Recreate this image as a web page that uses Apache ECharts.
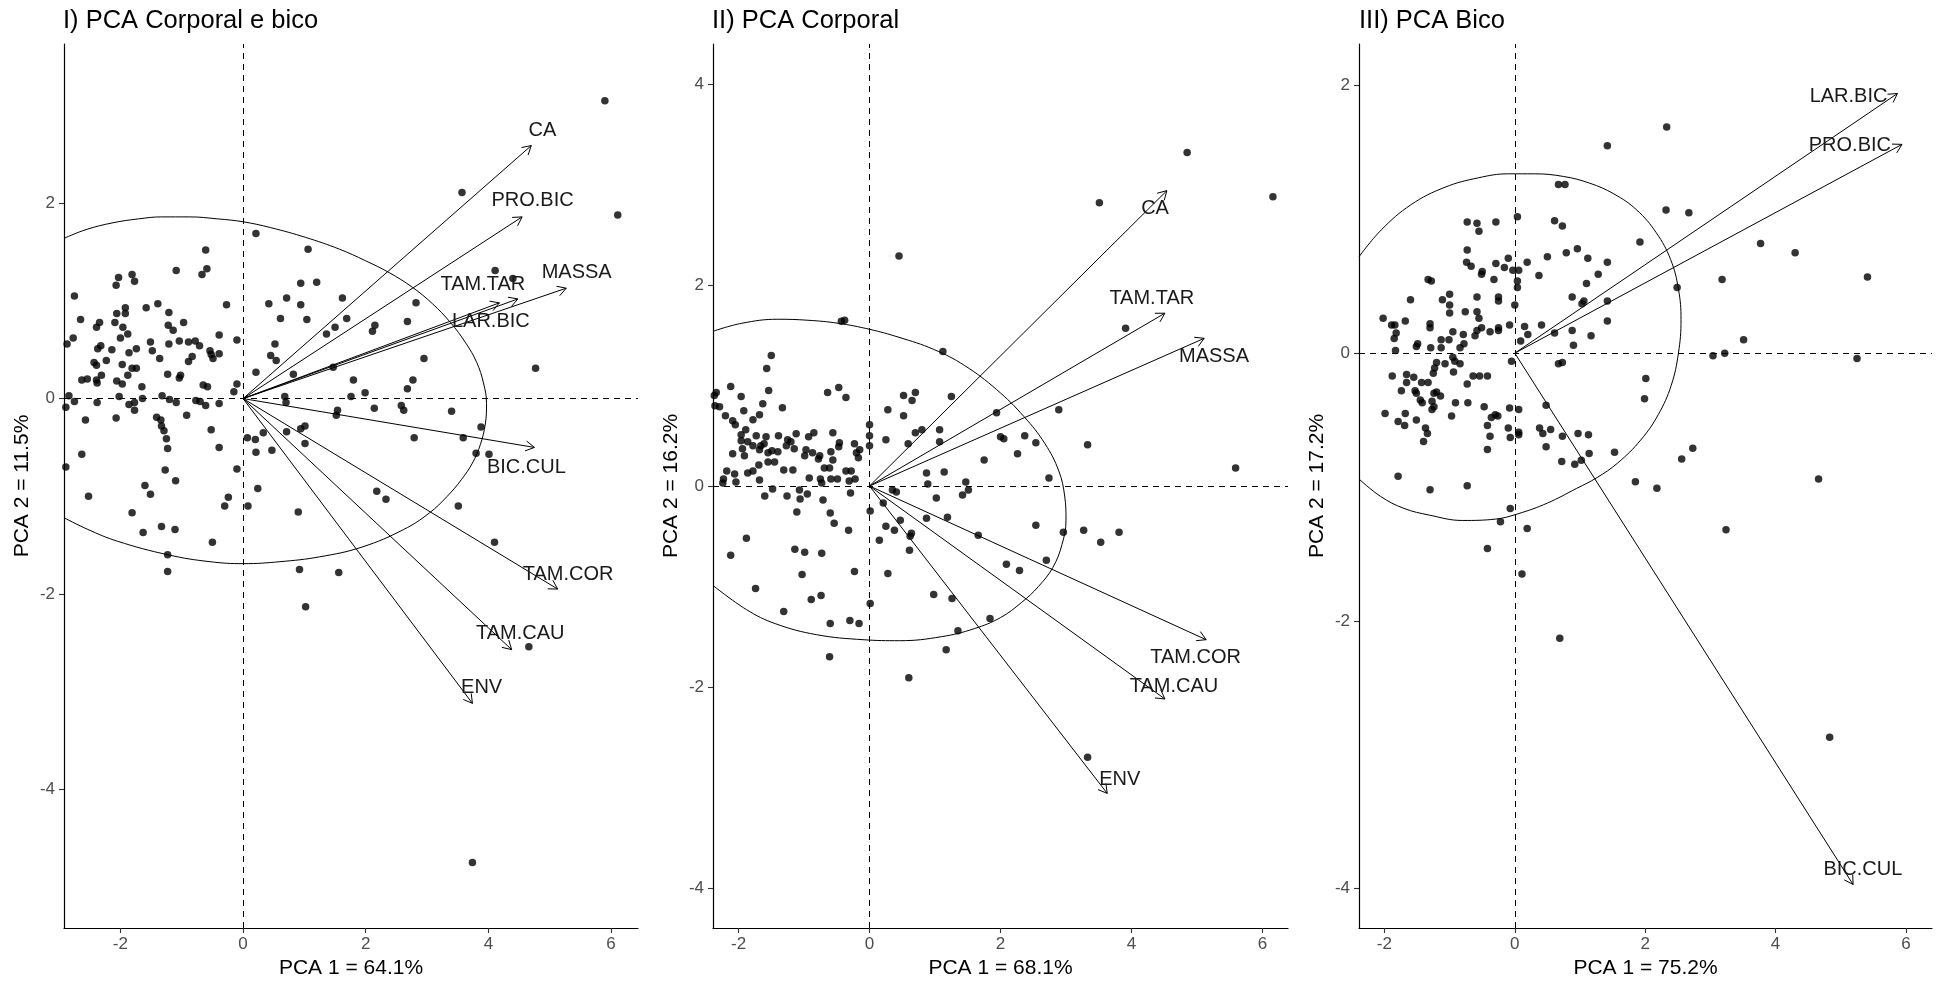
<!DOCTYPE html>
<html><head><meta charset="utf-8">
<script src="https://cdn.jsdelivr.net/npm/echarts@6/dist/echarts.min.js"></script>
<style>html,body{margin:0;padding:0;background:#fff}#c{width:1937px;height:984px}</style>
</head><body><div id="c"></div>
<script>
const FONT = 'Liberation Sans, Arial, sans-serif';

const titles = ['I) PCA Corporal e bico', 'II) PCA Corporal', 'III) PCA Bico'];
const xNames = ['PCA 1 = 64.1%', 'PCA 1 = 68.1%', 'PCA 1 = 75.2%'];
const yNames = ['PCA 2 = 11.5%', 'PCA 2 = 16.2%', 'PCA 2 = 17.2%'];
const xTicks = [-2, 0, 2, 4, 6];
const yTicks = [[-4, -2, 0, 2], [-4, -2, 0, 2, 4], [-4, -2, 0, 2]];
const xRange = [[-2.92, 6.44], [-2.39, 6.39], [-2.39, 6.40]];
const yRange = [[-5.42, 3.63], [-4.40, 4.40], [-4.295, 2.31]];

// Panel I points
const pts1 = [[-0.61,1.52],[-1.09,1.31],[-0.59,1.33],[-0.67,1.27],[-2.03,1.24],[-2.07,1.16],[-1.81,1.27],[-1.77,1.20],[-2.75,1.05],[-0.27,0.96],[-1.58,0.93],[-1.39,0.97],[-1.92,0.93],[-2.06,0.87],[-1.92,0.87],[-1.21,0.88],[-2.65,0.81],[-2.34,0.78],[-2.39,0.73],[-2.09,0.78],[-1.96,0.73],[-0.97,0.78],[-1.22,0.75],[-1.14,0.70],[-1.88,0.66],[-2.00,0.62],[-2.77,0.62],[-2.87,0.56],[-0.39,0.65],[-0.10,0.60],[-1.51,0.58],[-1.21,0.56],[-1.04,0.59],[-0.89,0.58],[-0.78,0.59],[-0.71,0.54],[-2.32,0.54],[-2.37,0.51],[-2.14,0.50],[-1.74,0.51],[-1.86,0.47],[-1.48,0.49],[-0.54,0.49],[-0.52,0.45],[-0.39,0.46],[-0.49,0.41],[-1.36,0.41],[-0.83,0.43],[-0.89,0.38],[-2.23,0.39],[-2.43,0.37],[-2.39,0.34],[-1.97,0.35],[-1.81,0.31],[-1.74,0.31],[-1.88,0.24],[-2.31,0.24],[-2.63,0.19],[-2.54,0.20],[-2.39,0.19],[-2.38,0.16],[-2.06,0.18],[-1.97,0.15],[-1.23,0.25],[-1.02,0.24],[-1.04,0.21],[-1.65,0.12],[-0.65,0.14],[-0.58,0.12],[-0.10,0.15],[-0.15,0.07],[-2.84,0.03],[-2.89,-0.09],[-2.75,-0.03],[-2.38,-0.04],[-2.02,0.02],[-1.64,0.00],[-1.32,0.03],[-1.20,-0.01],[-1.09,-0.04],[-0.77,-0.02],[-0.70,-0.03],[-0.61,-0.07],[-0.39,-0.05],[-1.86,-0.06],[-1.77,-0.04],[-1.77,-0.12],[-0.92,-0.17],[-2.57,-0.22],[-2.07,-0.20],[-1.41,-0.19],[-1.34,-0.22],[-1.33,-0.28],[-1.29,-0.33],[-1.25,-0.41],[-1.23,-0.51],[-0.52,-0.32],[-0.39,-0.50],[-2.63,-0.57],[-2.89,-0.70],[-1.27,-0.73],[-1.10,-0.84],[-0.10,-0.72],[-1.60,-0.89],[-1.51,-0.98],[-2.52,-1.00],[-0.24,-1.01],
[-1.81,-1.17],[-1.63,-1.37],[-1.33,-1.31],[-1.11,-1.34],[-0.50,-1.47],[-1.23,-1.60],[-1.23,-1.77],[-0.30,-1.10],[0.08,-1.10],[0.90,-1.16],[0.92,-1.75],[1.02,-2.13],[1.56,-1.78],[2.18,-0.95],[2.33,-1.03],[3.51,-1.10],[4.10,-1.47],[4.66,-2.54],[3.74,-4.75],
[3.57,2.11],[0.21,1.69],[1.06,1.53],[4.11,1.31],[4.40,1.23],[0.94,1.18],[1.20,1.19],[0.71,1.03],[0.42,0.97],[0.94,0.96],[1.62,1.03],[0.61,0.82],[1.04,0.81],[1.69,0.82],[2.82,0.98],[2.68,0.79],[1.36,0.66],[1.50,0.73],[2.15,0.75],[2.11,0.69],[0.52,0.56],[0.45,0.44],[0.54,0.39],[2.95,0.41],[0.21,0.27],[0.82,0.25],[1.47,0.32],[1.80,0.19],[2.77,0.19],[2.68,0.10],[1.99,0.06],[1.76,0.02],[0.68,0.02],[0.70,-0.04],[1.54,-0.12],[1.52,-0.17],[2.14,-0.10],[2.58,-0.07],[2.62,-0.12],[3.40,-0.13],[3.88,-0.29],[3.59,-0.40],[3.80,-0.56],[4.01,-0.57],[2.79,-0.40],[0.94,-0.31],[1.01,-0.28],[0.71,-0.34],[0.33,-0.35],[0.07,-0.40],[0.20,-0.42],[0.21,-0.55],[0.47,-0.53],[1.01,-0.46],[0.24,-0.92],
[6.11,1.88],[5.90,3.05],[4.77,0.31]];

// Panel II points
const pts2 = [[-0.43,1.64],[-0.38,1.65],[-1.50,1.30],[-1.57,1.17],[-2.12,0.99],[-1.54,0.95],[-1.96,0.89],[-2.34,0.93],[-2.37,0.90],[-2.36,0.80],[-2.29,0.79],[-1.63,0.82],[-1.33,0.78],[-1.68,0.71],[-1.92,0.75],[-2.20,0.70],[-2.09,0.65],[-2.05,0.61],[-1.78,0.66],[-0.64,0.93],[-0.47,0.98],[-0.36,0.88],[0.28,0.76],[0.52,0.90],[0.70,0.93],[0.65,0.85],[0.52,0.70],[0.00,0.61],[0.00,0.50],[0.00,0.40],[0.25,0.46],[0.59,0.42],[0.70,0.53],[0.80,0.56],[-1.96,0.51],[-1.89,0.56],[-1.73,0.50],[-1.58,0.49],[-1.39,0.50],[-1.12,0.52],[-0.85,0.53],[-0.93,0.49],[-0.56,0.53],[-1.96,0.45],[-1.86,0.44],[-1.78,0.40],[-1.66,0.40],[-1.61,0.42],[-1.94,0.37],[-1.25,0.46],[-1.20,0.44],[-1.27,0.40],[-1.15,0.37],[-0.46,0.43],[-0.47,0.39],[-0.23,0.42],[-0.15,0.36],[-0.20,0.33],[-0.17,0.28],[-2.09,0.32],[-1.91,0.30],[-1.68,0.36],[-1.55,0.33],[-1.49,0.35],[-1.40,0.34],[-0.97,0.36],[-0.87,0.33],[-0.76,0.30],[-0.78,0.27],[-0.99,0.30],[-0.59,0.34],[-0.56,0.26],[-1.55,0.24],[-1.45,0.24],[-0.69,0.18],[-0.61,0.18],[-1.31,0.16],[-1.17,0.16],[-1.69,0.21],[-1.78,0.15],[-1.86,0.13],[-2.18,0.15],[-2.06,0.12],[-2.23,0.07],[-2.04,0.04],[-2.24,0.03],[-1.68,0.06],[-0.92,0.08],[-0.75,0.07],[-0.73,0.03],[-0.59,0.07],[-0.49,0.07],[-0.36,0.15],[-0.28,0.15],[-0.31,0.05],[-0.22,0.07],[-1.48,-0.03],[-1.60,-0.10],[-1.26,-0.10],[-1.07,-0.04],[-1.06,-0.13],[-0.95,-0.08],[-0.71,-0.14],[-0.29,-0.07],[-1.11,-0.26],[-0.60,-0.27],[-0.54,-0.37],[-0.32,-0.44],[0.01,-0.25],[0.15,-0.54],[0.25,-0.40],[0.38,-0.44],[0.35,-0.04],[0.41,-0.06],[0.21,-0.17],[0.47,-0.34],[0.62,-0.50],[0.64,-0.47],[0.61,-0.64],[0.87,0.13],[0.89,0.02],[1.02,-0.12],[0.87,-0.32],[-1.88,-0.52],[-2.12,-0.69],[-1.14,-0.63],[-0.99,-0.66],[-0.73,-0.67],[-1.03,-0.88],[-0.23,-0.85],[0.28,-0.87],
[-1.74,-1.02],[-1.31,-1.25],[-0.89,-1.13],[-0.74,-1.09],[-0.60,-1.37],[-0.30,-1.34],[-0.16,-1.37],[0.01,-1.17],[-0.61,-1.70],[0.98,-1.08],[1.26,-1.12],[1.35,-1.44],[1.17,-1.63],[1.84,-1.32],[0.60,-1.91],[2.09,-0.78],[2.29,-0.84],[2.70,-0.74],[2.54,-0.39],[2.96,-0.46],[3.27,-0.44],[3.53,-0.56],[3.81,-0.46],[3.33,-2.70],[1.66,-0.49],[1.19,-0.31],
[3.51,2.82],[3.91,1.57],[1.12,1.34],[1.25,0.89],[1.94,0.73],[2.89,0.76],[1.07,0.56],[1.07,0.44],[2.00,0.49],[2.05,0.47],[2.37,0.50],[2.54,0.43],[2.26,0.32],[1.75,0.26],[3.33,0.41],[1.14,0.14],[2.74,0.08],[1.47,0.04],[1.51,-0.04],[1.42,-0.09],
[4.85,3.32],[6.16,2.88],[0.45,2.29],[5.59,0.18]];

// Panel III points
const pts3 = [[0.67,1.26],[0.77,1.26],[0.04,1.02],[-0.73,0.98],[-0.58,0.97],[-0.55,0.91],[-0.29,0.98],[0.61,0.99],[0.73,0.95],[-0.73,0.77],[-0.74,0.68],[-0.67,0.65],[-0.50,0.61],[-0.51,0.59],[-0.29,0.67],[-0.16,0.64],[-0.10,0.71],[-0.03,0.62],[0.06,0.62],[0.19,0.68],[0.37,0.58],[0.50,0.72],[0.79,0.75],[0.96,0.78],[1.12,0.71],[1.10,0.52],[0.04,0.54],[0.04,0.49],[-0.32,0.55],[-1.33,0.55],[-1.28,0.54],[-1.60,0.40],[-1.11,0.40],[-1.00,0.44],[-1.00,0.36],[-1.00,0.30],[-0.58,0.42],[-0.25,0.42],[-0.25,0.39],[0.00,0.36],[0.88,0.42],[1.03,0.37],[1.06,0.39],[-2.02,0.26],[-1.89,0.21],[-1.84,0.21],[-1.68,0.24],[-1.30,0.22],[-1.30,0.19],[-0.76,0.31],[-0.58,0.31],[-0.55,0.26],[-0.58,0.17],[-0.51,0.19],[-0.61,0.13],[-0.38,0.16],[-0.25,0.17],[-0.25,0.19],[-0.08,0.21],[0.15,0.20],[0.20,0.14],[0.41,0.21],[0.61,0.15],[0.88,0.17],[1.17,0.13],[0.90,0.06],[0.09,0.09],[-1.82,0.15],[-1.85,0.11],[-1.83,0.02],[-1.49,0.07],[-1.51,0.05],[-1.29,0.04],[-1.13,0.04],[-1.13,0.10],[-1.01,0.10],[-0.95,0.16],[-0.79,0.14],[-0.78,0.07],[-0.84,0.04],[-0.95,-0.03],[-0.92,-0.06],[-0.84,-0.08],[-1.07,-0.08],[-1.20,-0.07],[-1.23,-0.11],[-1.25,-0.15],[-0.94,-0.14],[-0.05,-0.06],[0.67,-0.08],[0.73,-0.07],[-1.88,-0.17],[-1.66,-0.16],[-1.55,-0.18],[-1.66,-0.22],[-1.43,-0.22],[-1.33,-0.22],[-1.74,-0.28],[-1.53,-0.28],[-1.51,-0.30],[-1.20,-0.29],[-1.14,-0.32],[-1.24,-0.30],[-1.45,-0.35],[-1.42,-0.37],[-1.27,-0.36],[-1.24,-0.40],[-1.27,-0.42],[-0.73,-0.23],[-0.64,-0.17],[-0.54,-0.17],[-0.42,-0.17],[-0.91,-0.37],[-0.72,-0.37],[-0.47,-0.40],[-1.99,-0.45],[-1.68,-0.45],[-1.79,-0.51],[-1.69,-0.54],[-1.51,-0.50],[-1.37,-0.56],[-1.34,-0.60],[-1.40,-0.66],[-0.97,-0.47],[-0.36,-0.48],[-0.30,-0.46],[-0.26,-0.47],[-0.42,-0.54],[-0.38,-0.62],[-0.42,-0.72],[-0.08,-0.41],[0.06,-0.42],[-0.10,-0.56],[0.06,-0.59],[-0.07,-0.63],[0.06,-0.61],[0.38,-0.56],[0.43,-0.60],[0.55,-0.57],[0.48,-0.39],[0.48,-0.70],[0.73,-0.62],[0.97,-0.60],[1.13,-0.61],[0.72,-0.81],[0.92,-0.83],[1.02,-0.80],[1.14,-0.75],[-1.79,-0.92],[-1.30,-1.02],[-0.73,-0.99],[-0.07,-1.16],
[2.33,1.69],[1.42,1.55],[2.32,1.07],[2.67,1.05],[1.92,0.83],[1.42,0.68],[1.28,0.59],[1.42,0.39],[1.42,0.24],[2.49,0.49],[3.18,0.55],[3.77,0.82],[4.30,0.75],[5.41,0.57],[3.51,0.10],[3.04,-0.02],[3.22,0.00],[5.25,-0.04],[2.01,-0.19],[1.99,-0.34],[1.53,-0.74],[2.73,-0.71],[2.56,-0.79],[1.85,-0.96],[2.18,-1.01],[4.66,-0.94],[-0.22,-1.26],[0.19,-1.31],[-0.42,-1.46],[0.11,-1.65],[0.69,-2.13],[3.24,-1.32],[4.83,-2.87]];

// Ellipses
const ell1 = [[-2.92,-1.22],[-2.53,-1.34],[-2.05,-1.46],[-1.22,-1.60],[-0.54,-1.67],[0.01,-1.69],[0.60,-1.67],[1.25,-1.62],[1.94,-1.52],[2.62,-1.34],[3.04,-1.17],[3.33,-1.00],[3.56,-0.83],[3.74,-0.66],[3.87,-0.47],[3.95,-0.26],[3.97,-0.05],[3.92,0.16],[3.81,0.37],[3.63,0.57],[3.38,0.78],[3.09,0.97],[2.76,1.14],[2.38,1.29],[2.00,1.41],[1.57,1.53],[1.02,1.65],[0.45,1.75],[0.00,1.81],[-0.42,1.84],[-0.87,1.86],[-1.33,1.86],[-1.70,1.84],[-2.12,1.80],[-2.56,1.73],[-2.92,1.64]];
const ell2 = [[-2.39,-0.99],[-1.88,-1.23],[-1.44,-1.37],[-0.81,-1.48],[-0.10,-1.53],[0.46,-1.54],[1.10,-1.50],[1.60,-1.42],[2.00,-1.31],[2.32,-1.16],[2.58,-1.00],[2.80,-0.81],[2.94,-0.58],[3.00,-0.34],[2.98,-0.10],[2.89,0.15],[2.68,0.42],[2.36,0.69],[1.94,0.96],[1.45,1.20],[0.98,1.36],[0.45,1.48],[0.00,1.56],[-0.48,1.62],[-0.94,1.65],[-1.40,1.66],[-1.95,1.62],[-2.39,1.54]];
const ell3 = [[-2.39,-0.94],[-2.06,-1.07],[-1.70,-1.16],[-1.31,-1.21],[-0.80,-1.25],[-0.30,-1.24],[0.05,-1.20],[0.50,-1.12],[0.95,-1.01],[1.26,-0.93],[1.58,-0.82],[1.93,-0.65],[2.20,-0.46],[2.40,-0.24],[2.51,0.00],[2.55,0.25],[2.51,0.48],[2.39,0.70],[2.17,0.90],[1.87,1.07],[1.52,1.19],[1.15,1.27],[0.75,1.32],[0.30,1.34],[-0.10,1.34],[-0.56,1.31],[-1.07,1.24],[-1.59,1.11],[-2.05,0.92],[-2.39,0.72]];

// Loading arrows: names, tips, label positions
const vars1 = ['CA','PRO.BIC','MASSA','TAM.TAR','LAR.BIC','BIC.CUL','TAM.COR','TAM.CAU','ENV'];
const tips1 = [[4.70,2.59],[4.55,1.86],[5.27,1.13],[4.18,0.98],[4.48,1.02],[4.75,-0.50],[5.13,-1.95],[4.38,-2.57],[3.74,-3.12]];
const labs1 = [[4.88,2.74],[4.72,2.03],[5.44,1.29],[3.91,1.17],[4.04,0.79],[4.62,-0.71],[5.30,-1.80],[4.52,-2.40],[3.89,-2.96]];
const vars2 = ['CA','TAM.TAR','MASSA','TAM.COR','TAM.CAU','ENV'];
const tips2 = [[4.54,2.94],[4.51,1.72],[5.11,1.47],[5.14,-1.53],[4.51,-2.12],[3.63,-3.06]];
const labs2 = [[4.36,2.76],[4.31,1.87],[5.26,1.29],[4.98,-1.71],[4.65,-2.00],[3.82,-2.92]];
const vars3 = ['LAR.BIC','PRO.BIC','BIC.CUL'];
const tips3 = [[5.87,1.94],[5.94,1.56],[5.19,-3.97]];
const labs3 = [[5.12,1.92],[5.14,1.55],[5.34,-3.86]];

const pts = [pts1, pts2, pts3];
const ells = [ell1, ell2, ell3];
const vars = [vars1, vars2, vars3];
const tips = [tips1, tips2, tips3];
const labs = [labs1, labs2, labs3];

const grids = [
  {left: 64, top: 44, width: 574, height: 885},
  {left: 713, top: 44, width: 575, height: 885},
  {left: 1359, top: 44, width: 573, height: 885}
];
const titleLeft = [63, 712, 1359];

const chart = echarts.init(document.getElementById('c'), null, {renderer: 'canvas'});

const xAxes = [], yAxes = [], series = [], titleArr = [];
for (let i = 0; i < 3; i++) {
  titleArr.push({text: titles[i], left: titleLeft[i], top: 8, padding: 0,
    textStyle: {fontSize: 25.5, fontWeight: 'normal', color: '#000', fontFamily: FONT}});
  xAxes.push({gridIndex: i, type: 'value', min: xRange[i][0], max: xRange[i][1],
    name: xNames[i], nameLocation: 'middle', nameGap: 30,
    nameTextStyle: {fontSize: 21, color: '#000', fontFamily: FONT},
    splitLine: {show: false},
    axisLine: {onZero: false, lineStyle: {color: '#000', width: 1.2}},
    axisTick: {customValues: xTicks, length: 5, lineStyle: {color: '#333', width: 1.1}},
    axisLabel: {customValues: xTicks, fontSize: 17, color: '#4d4d4d', margin: 8, fontFamily: FONT}});
  yAxes.push({gridIndex: i, type: 'value', min: yRange[i][0], max: yRange[i][1],
    name: yNames[i], nameLocation: 'middle', nameGap: 31,
    nameTextStyle: {fontSize: 21, color: '#000', fontFamily: FONT},
    splitLine: {show: false},
    axisLine: {onZero: false, lineStyle: {color: '#000', width: 1.2}},
    axisTick: {customValues: yTicks[i], length: 5, lineStyle: {color: '#333', width: 1.1}},
    axisLabel: {customValues: yTicks[i], fontSize: 17, color: '#4d4d4d', margin: 9, fontFamily: FONT}});

  series.push({type: 'scatter', xAxisIndex: i, yAxisIndex: i, data: pts[i], symbolSize: 7.5,
    itemStyle: {color: '#000'}, silent: true, z: 2,
    markLine: {silent: true, symbol: ['none', 'none'], label: {show: false},
      lineStyle: {color: '#000', type: [6, 5], width: 1}, data: [{xAxis: 0}, {yAxis: 0}]}});
  series.push({type: 'line', xAxisIndex: i, yAxisIndex: i, data: ells[i], symbol: 'none', smooth: 0.4,
    lineStyle: {color: '#000', width: 1}, silent: true, z: 3});
  const tp = tips[i];
  series.push({type: 'custom', xAxisIndex: i, yAxisIndex: i, data: tp, silent: true, z: 4,
    encode: {x: 0, y: 1},
    renderItem: function (params, api) {
      const o = api.coord([0, 0]);
      const t = api.coord([api.value(0), api.value(1)]);
      const ang = Math.atan2(t[1] - o[1], t[0] - o[0]);
      const L = 10, A = Math.PI / 6;
      const a1 = [t[0] - L * Math.cos(ang - A), t[1] - L * Math.sin(ang - A)];
      const a2 = [t[0] - L * Math.cos(ang + A), t[1] - L * Math.sin(ang + A)];
      return {type: 'group', children: [
        {type: 'line', shape: {x1: o[0], y1: o[1], x2: t[0], y2: t[1]}, style: {stroke: '#000', lineWidth: 1}},
        {type: 'polyline', shape: {points: [a1, t, a2]}, style: {stroke: '#000', lineWidth: 1, fill: null}}
      ]};
    }});
  const names = vars[i];
  series.push({type: 'custom', xAxisIndex: i, yAxisIndex: i, data: labs[i], silent: true, z: 5,
    encode: {x: 0, y: 1},
    renderItem: function (params, api) {
      const c = api.coord([api.value(0), api.value(1)]);
      return {type: 'text', x: c[0], y: c[1], style: {text: names[params.dataIndex], x: 0, y: 0,
        align: 'center', verticalAlign: 'middle', fontSize: 20, fontFamily: FONT, fill: '#1a1a1a'}};
    }});
}

chart.setOption({
  animation: false,
  backgroundColor: '#fff',
  title: titleArr,
  grid: grids,
  xAxis: xAxes,
  yAxis: yAxes,
  series: series
});
</script>
</body></html>
